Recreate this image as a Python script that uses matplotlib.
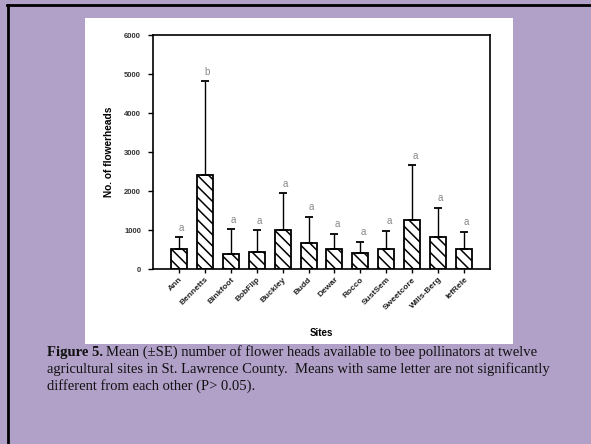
import matplotlib.pyplot as plt
import matplotlib.patches as patches
import numpy as np

# data
sites = ["Ann", "Bennetts", "Binkfoot", "BobFlip", "Buckley", "Budd",
         "Dewar", "Rocco", "SustSem", "Sweetcore", "Wills-Berg", "lefRele"]
means = [520, 2400, 390, 425, 990, 665, 520, 400, 520, 1255, 820, 505]
se = [300, 2425, 625, 565, 955, 680, 385, 300, 460, 1405, 750, 450]
letters = ["a", "b", "a", "a", "a", "a", "a", "a", "a", "a", "a", "a"]

bg_color = "#B1A1C8"

fig = plt.figure(figsize=(5.91, 4.44), dpi=100)
fig.patch.set_facecolor(bg_color)

# white panel behind the chart
fig.patches.append(patches.Rectangle((85/591, 1-344/444), 428/591, 326/444,
                                     transform=fig.transFigure, facecolor="white",
                                     edgecolor="none", zorder=-5))
# slide frame lines (top and left)
fig.lines.append(plt.Line2D([7/591, 1], [1-5/444, 1-5/444], transform=fig.transFigure,
                            color="black", linewidth=2))
fig.lines.append(plt.Line2D([8/591, 8/591], [0, 1-5/444], transform=fig.transFigure,
                            color="black", linewidth=2))

ax = fig.add_axes([153/591, 1-269/444, 337/591, 234/444])
ax.set_zorder(2)
ax.set_facecolor("white")

plt.rcParams["hatch.linewidth"] = 1.1
x = np.arange(len(sites))
ax.bar(x, means, width=0.62, color="white", edgecolor="black", linewidth=1.3,
       hatch="\\\\\\", zorder=2)
ax.errorbar(x, means, yerr=[np.zeros(len(se)), se], fmt="none", ecolor="black",
            elinewidth=1.0, capsize=3, capthick=1.3, zorder=3)

for xi, m, s, lab in zip(x, means, se, letters):
    ax.text(xi + 0.1, m + s + 110, lab, ha="center", va="bottom", fontsize=7,
            color="#888888", family="Liberation Sans")

ax.set_xlim(-1, 12)
ax.set_ylim(0, 6000)
ax.set_yticks(range(0, 6001, 1000))
ax.set_xticks(x)
ax.set_xticklabels(sites, rotation=45, ha="right", rotation_mode="anchor",
                   fontsize=6.0, fontweight="bold", family="Liberation Sans",
                   color="#222222")
for lab in ax.get_yticklabels():
    lab.set_fontsize(5.5)
    lab.set_fontweight("bold")
    lab.set_family("Liberation Sans")
    lab.set_color("#333333")
ax.tick_params(axis="x", direction="out", length=3, width=1, pad=2)
ax.tick_params(axis="y", direction="out", length=3.5, width=1, pad=5)
for sp in ax.spines.values():
    sp.set_linewidth(1.2)

ax.set_ylabel("No. of flowerheads", fontsize=7.3, fontweight="bold",
              family="Liberation Sans", labelpad=7)
fig.text(321/591, 1-333/444, "Sites", ha="center", va="center", fontsize=7,
         fontweight="bold", family="Liberation Sans")

# caption
cap_font = dict(family="Liberation Serif", fontsize=10.5, color="#111111", va="center")
t = fig.text(47/591, 1-352/444, "Figure 5.", fontweight="bold", **cap_font)
fig.canvas.draw()
bb = t.get_window_extent().transformed(fig.transFigure.inverted())
fig.text(bb.x1 + 3/591, 1-352/444,
         "Mean (\u00b1SE) number of flower heads available to bee pollinators at twelve",
         **cap_font)
fig.text(47/591, 1-369/444,
         "agricultural sites in St. Lawrence County.  Means with same letter are not significantly",
         **cap_font)
fig.text(47/591, 1-386/444, "different from each other (P> 0.05).", **cap_font)

plt.savefig("out.png", dpi=100, facecolor=bg_color)
